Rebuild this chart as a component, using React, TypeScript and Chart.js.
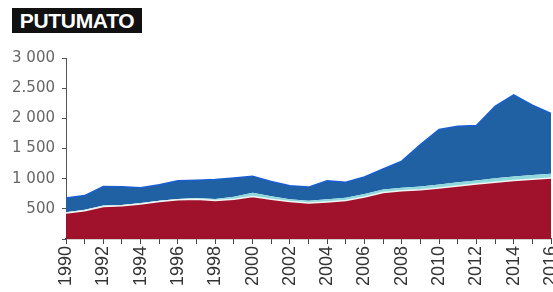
import React, { useEffect, useRef } from "react";
import { Chart, registerables } from "chart.js";

Chart.register(...registerables);

const years = [
  "1990", "1991", "1992", "1993", "1994", "1995", "1996", "1997", "1998",
  "1999", "2000", "2001", "2002", "2003", "2004", "2005", "2006", "2007",
  "2008", "2009", "2010", "2011", "2012", "2013", "2014", "2015", "2016",
];

// bottom layer (red)
const redLayer = [
  430, 470, 540, 550, 580, 620, 650, 660, 640,
  660, 705, 660, 620, 595, 615, 640, 695, 770,
  800, 815, 845, 880, 910, 940, 970, 990, 1010,
];

// thin middle layer (light cyan)
const cyanLayer = [
  15, 15, 15, 15, 15, 15, 15, 20, 25,
  40, 60, 50, 40, 40, 45, 45, 50, 50,
  50, 55, 60, 60, 60, 65, 65, 70, 70,
];

// top layer (blue)
const blueLayer = [
  235, 235, 315, 300, 255, 265, 300, 295, 320,
  310, 275, 245, 223, 225, 305, 255, 285, 340,
  440, 695, 910, 930, 910, 1195, 1355, 1160, 1000,
];

const yTickValues = [0, 500, 1000, 1500, 2000, 2500, 3000];
const yTickLabels = ["", "500", "1 000", "1 500", "2 000", "2.500", "3 000"];

const title = "PUTUMATO";

export default function App() {
  const ref = useRef<HTMLCanvasElement | null>(null);

  useEffect(() => {
    document.body.style.margin = "0";
    const canvas = ref.current;
    if (!canvas) return;
    const chart = new Chart(canvas, {
      type: "line",
      data: {
        labels: years,
        datasets: [
          {
            label: "red",
            data: redLayer,
            fill: "origin",
            backgroundColor: "#a0122c",
            borderColor: "#f2f4f4",
            borderWidth: 1.5,
            pointRadius: 0,
            tension: 0,
          },
          {
            label: "cyan",
            data: cyanLayer,
            fill: "-1",
            backgroundColor: "#8fd8dc",
            borderColor: "#8fd8dc",
            borderWidth: 0,
            pointRadius: 0,
            tension: 0,
          },
          {
            label: "blue",
            data: blueLayer,
            fill: "-1",
            backgroundColor: "#1f61a2",
            borderColor: "#1a5fd2",
            borderWidth: 1.5,
            pointRadius: 0,
            tension: 0,
          },
        ],
      },
      options: {
        animation: false,
        responsive: false,
        maintainAspectRatio: false,
        layout: { padding: { top: 58, right: 2, left: 0, bottom: 0 } },
        plugins: {
          legend: { display: false },
          tooltip: { enabled: false },
          title: { display: false },
        },
        scales: {
          x: {
            type: "category",
            offset: false,
            grid: {
              drawOnChartArea: false,
              drawTicks: true,
              tickLength: 5,
              color: "#444",
            },
            border: { display: true, color: "#444", width: 1.2 },
            ticks: {
              autoSkip: false,
              minRotation: 90,
              maxRotation: 90,
              padding: 2,
              color: "#333",
              font: { family: "Liberation Sans, Arial", size: 18 },
              callback: (_v: any, i: number) => (i % 2 === 0 ? years[i] : ""),
            },
            afterFit: (scale: any) => {
              scale.height = 53;
              scale.paddingLeft = 0;
              scale.paddingRight = 0;
            },
          },
          y: {
            stacked: true,
            min: 0,
            max: 3000,
            afterBuildTicks: (scale: any) => {
              scale.ticks = yTickValues.map((v) => ({ value: v }));
            },
            grid: {
              drawOnChartArea: false,
              drawTicks: true,
              tickLength: 4,
              color: "#555",
            },
            border: { display: true, color: "#555", width: 1 },
            ticks: {
              padding: 7,
              color: "#666",
              font: { family: "DejaVu Sans", size: 15 },
              callback: (v: any) => {
                const idx = yTickValues.indexOf(Number(v));
                return idx >= 0 ? yTickLabels[idx] : "";
              },
            },
            afterFit: (scale: any) => {
              scale.width = 66;
            },
          },
        },
      },
    });
    return () => chart.destroy();
  }, []);

  return (
    <div style={{ position: "relative", width: 553, height: 292, background: "#fff" }}>
      <canvas ref={ref} width={553} height={292} style={{ position: "absolute", left: 0, top: 0 }} />
      <div
        style={{
          position: "absolute",
          left: 12,
          top: 8,
          width: 130,
          height: 25,
          background: "#111",
          color: "#fff",
          fontFamily: "Liberation Sans, Arial, sans-serif",
          fontWeight: "bold",
          fontSize: 21,
          lineHeight: "25px",
          textAlign: "center",
          letterSpacing: "-0.3px",
        }}
      >
        {title}
      </div>
    </div>
  );
}
